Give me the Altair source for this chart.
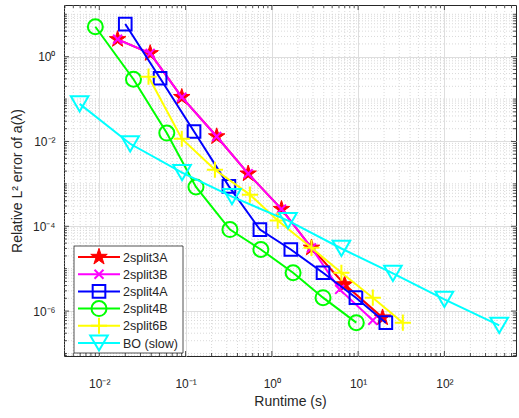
import math
import altair as alt
import pandas as pd

# ---------------- data ----------------
series_names = ["2split3A", "2split3B", "2split4A", "2split4B", "2split6B", "BO (slow)"]
series_colors = ["#ff0000", "#ff00ff", "#0000ff", "#00ff00", "#ffff00", "#00ffff"]

rt_3A = [0.0163, 0.0389, 0.0904, 0.2295, 0.532, 1.294, 2.88, 6.98, 19.2]
err_3A = [2.57, 1.20, 0.111, 0.0131, 1.74e-3, 2.54e-4, 3.10e-5, 4.25e-6, 7.0e-7]

rt_3B = [0.0163, 0.0389, 0.0904, 0.2295, 0.532, 1.294, 2.88, 6.11, 14.8]
err_3B = [2.57, 1.20, 0.111, 0.0131, 1.74e-3, 2.54e-4, 3.10e-5, 3.24e-6, 6.04e-7]

rt_4A = [0.0200, 0.0507, 0.1254, 0.318, 0.727, 1.66, 3.92, 9.43, 20.96]
err_4A = [5.88, 0.310, 0.0172, 8.73e-4, 8.36e-5, 2.83e-5, 8.01e-6, 2.07e-6, 5.33e-7]

rt_4B = [0.0090, 0.0249, 0.0606, 0.132, 0.327, 0.746, 1.763, 3.92, 9.53]
err_4B = [5.08, 0.294, 0.0158, 8.45e-4, 8.36e-5, 2.83e-5, 8.0e-6, 2.07e-6, 5.33e-7]

rt_6B = [0.0372, 0.0904, 0.219, 0.557, 1.17, 2.88, 6.40, 14.8, 33.0]
err_6B = [0.338, 0.0116, 2.16e-3, 5.57e-4, 1.36e-4, 3.10e-5, 8.0e-6, 2.07e-6, 5.33e-7]

rt_BO = [0.00592, 0.0228, 0.0911, 0.345, 1.54, 6.40, 25.3, 100.0, 432.0]
err_BO = [0.077, 8.83e-3, 1.84e-3, 5.0e-4, 1.36e-4, 2.99e-5, 7.71e-6, 1.88e-6, 4.61e-7]

x_major = [1e-2, 1e-1, 1e0, 1e1, 1e2]
y_major = [1e-6, 1e-4, 1e-2, 1e0]

# ---------------- layout / style ----------------
W, H = 452, 351
XMIN, XMAX = 10 ** -2.409, 10 ** 2.83
YMIN, YMAX = 10 ** -7.06, 10 ** 1.219
FONT = "Liberation Sans"
TXT = "#262626"

x_minor = [k * 10.0 ** n for n in range(-3, 3) for k in range(2, 10)
           if XMIN <= k * 10.0 ** n <= XMAX]
y_minor = [k * 10.0 ** n for n in range(-8, 2) for k in range(1, 10)
           if YMIN <= k * 10.0 ** n <= YMAX and not (k == 1 and n % 2 == 0)]


def star_path(inner=0.382):
    pts = []
    for k in range(10):
        ang = math.radians(-90 + 36 * k)
        r = 1.0 if k % 2 == 0 else inner
        pts.append((r * math.cos(ang), r * math.sin(ang)))
    return "M" + "L".join(f"{px:.3f},{py:.3f}" for px, py in pts) + "Z"


PLUS = "M-1,0L1,0M0,-1L0,1"
XSHAPE = "M-1,-1L1,1M-1,1L1,-1"
STAR = star_path()

marker_styles = {
    "2split3A": dict(shape=STAR, size=300, filled=True, sw=1),
    "2split3B": dict(shape=XSHAPE, size=80, filled=False, sw=2),
    "2split4A": dict(shape="square", size=160, filled=False, sw=2),
    "2split4B": dict(shape="circle", size=225, filled=False, sw=2),
    "2split6B": dict(shape=PLUS, size=260, filled=False, sw=2),
    "BO (slow)": dict(shape="triangle-down", size=310, filled=False, sw=2),
}

xscale = alt.Scale(type="log", domain=[XMIN, XMAX], nice=False)
yscale = alt.Scale(type="log", domain=[YMIN, YMAX], nice=False)

xaxis = alt.Axis(
    values=x_major,
    labelExpr="['10⁻²','10⁻¹','10⁰','10¹','10²'][round(log(datum.value)/LN10)+2]",
    title="Runtime (s)", grid=True, gridColor="#dedede", gridWidth=1,
    ticks=False, domain=False, labelPadding=22, labelFont=FONT, labelFontSize=12,
    labelColor=TXT, titleFont=FONT, titleFontSize=14, titleFontWeight="normal",
    titleColor=TXT, titlePadding=5, labelFlush=False,
)
yaxis = alt.Axis(
    values=y_major,
    labelExpr="['10⁻⁶','','10⁻⁴','','10⁻²','','10⁰'][round(log(datum.value)/LN10)+6]",
    title="Relative L² error of a(λ)", grid=True, gridColor="#dedede", gridWidth=1,
    ticks=False, domain=False, labelPadding=9, labelFont=FONT, labelFontSize=12,
    labelColor=TXT, titleFont=FONT, titleFontSize=14, titleFontWeight="normal",
    titleColor=TXT, titlePadding=8, labelFlush=False,
)


def X(field):
    return alt.X(f"{field}:Q", scale=xscale, axis=xaxis)


def Y(field):
    return alt.Y(f"{field}:Q", scale=yscale, axis=yaxis)


layers = []

# minor grid
gx = pd.DataFrame({"gx": x_minor})
gy = pd.DataFrame({"gy": y_minor})
layers.append(alt.Chart(gx).mark_rule(color="#cfcfcf", strokeWidth=0.8, strokeDash=[1, 2])
              .encode(x=X("gx")))
layers.append(alt.Chart(gy).mark_rule(color="#cfcfcf", strokeWidth=0.8, strokeDash=[1, 2])
              .encode(y=Y("gy")))

# tick marks (inward, on all four sides)
gxM = pd.DataFrame({"gx": x_major})
gyM = pd.DataFrame({"gy": y_major})
for dfx, ln in ((gx, 3), (gxM, 5)):
    layers.append(alt.Chart(dfx).mark_rule(color=TXT, strokeWidth=0.8)
                  .encode(x=X("gx"), y=alt.value(H), y2=alt.value(H - ln)))
    layers.append(alt.Chart(dfx).mark_rule(color=TXT, strokeWidth=0.8)
                  .encode(x=X("gx"), y=alt.value(0), y2=alt.value(ln)))
for dfy, ln in ((gy, 3), (gyM, 5)):
    layers.append(alt.Chart(dfy).mark_rule(color=TXT, strokeWidth=0.8)
                  .encode(y=Y("gy"), x=alt.value(0), x2=alt.value(ln)))
    layers.append(alt.Chart(dfy).mark_rule(color=TXT, strokeWidth=0.8)
                  .encode(y=Y("gy"), x=alt.value(W), x2=alt.value(W - ln)))

all_x = [rt_3A, rt_3B, rt_4A, rt_4B, rt_6B, rt_BO]
all_y = [err_3A, err_3B, err_4A, err_4B, err_6B, err_BO]

for name, color, xs, ys in zip(series_names, series_colors, all_x, all_y):
    st = marker_styles[name]
    df = pd.DataFrame({"rt": xs, "err": ys})
    base = alt.Chart(df).encode(x=X("rt"), y=Y("err"))
    layers.append(base.mark_line(color=color, strokeWidth=2, clip=True))
    pt_kwargs = dict(shape=st["shape"], size=st["size"], filled=st["filled"],
                     strokeWidth=st["sw"], opacity=1, clip=True)
    if st["filled"]:
        pt_kwargs.update(fill=color, stroke=color)
    else:
        pt_kwargs.update(color=color)
    layers.append(base.mark_point(**pt_kwargs))

# legend (MATLAB-style box, lower left)
LX0, LX1, LY0, LY1 = 10, 119, 241, 348
layers.append(alt.Chart(pd.DataFrame({"a": [0]})).mark_rect(fill="white", stroke=TXT, strokeWidth=0.8)
              .encode(x=alt.value(LX0), x2=alt.value(LX1), y=alt.value(LY0), y2=alt.value(LY1)))
for i, (name, color) in enumerate(zip(series_names, series_colors)):
    st = marker_styles[name]
    yy = 252 + i * 17.2
    d1 = pd.DataFrame({"series": [name]})
    layers.append(alt.Chart(d1).mark_rule(color=color, strokeWidth=2)
                  .encode(x=alt.value(14), x2=alt.value(56), y=alt.value(yy)))
    pk = dict(shape=st["shape"], size=st["size"], filled=st["filled"],
              strokeWidth=st["sw"], opacity=1)
    if st["filled"]:
        pk.update(fill=color, stroke=color)
    else:
        pk.update(color=color)
    layers.append(alt.Chart(d1).mark_point(**pk)
                  .encode(x=alt.value(35), y=alt.value(yy)))
    layers.append(alt.Chart(d1).mark_text(align="left", baseline="middle", font=FONT,
                                          fontSize=12.5, color=TXT)
                  .encode(x=alt.value(59), y=alt.value(yy + 0.5), text="series:N"))

chart = (
    alt.layer(*layers)
    .properties(width=W, height=H, background="white",
                autosize=alt.AutoSizeParams(type="none"),
                padding={"left": 64, "top": 5, "right": 3, "bottom": 62})
    .configure_view(stroke=TXT, strokeWidth=1)
)

chart.save("out.html", embed_options={"renderer": "svg", "actions": False})
